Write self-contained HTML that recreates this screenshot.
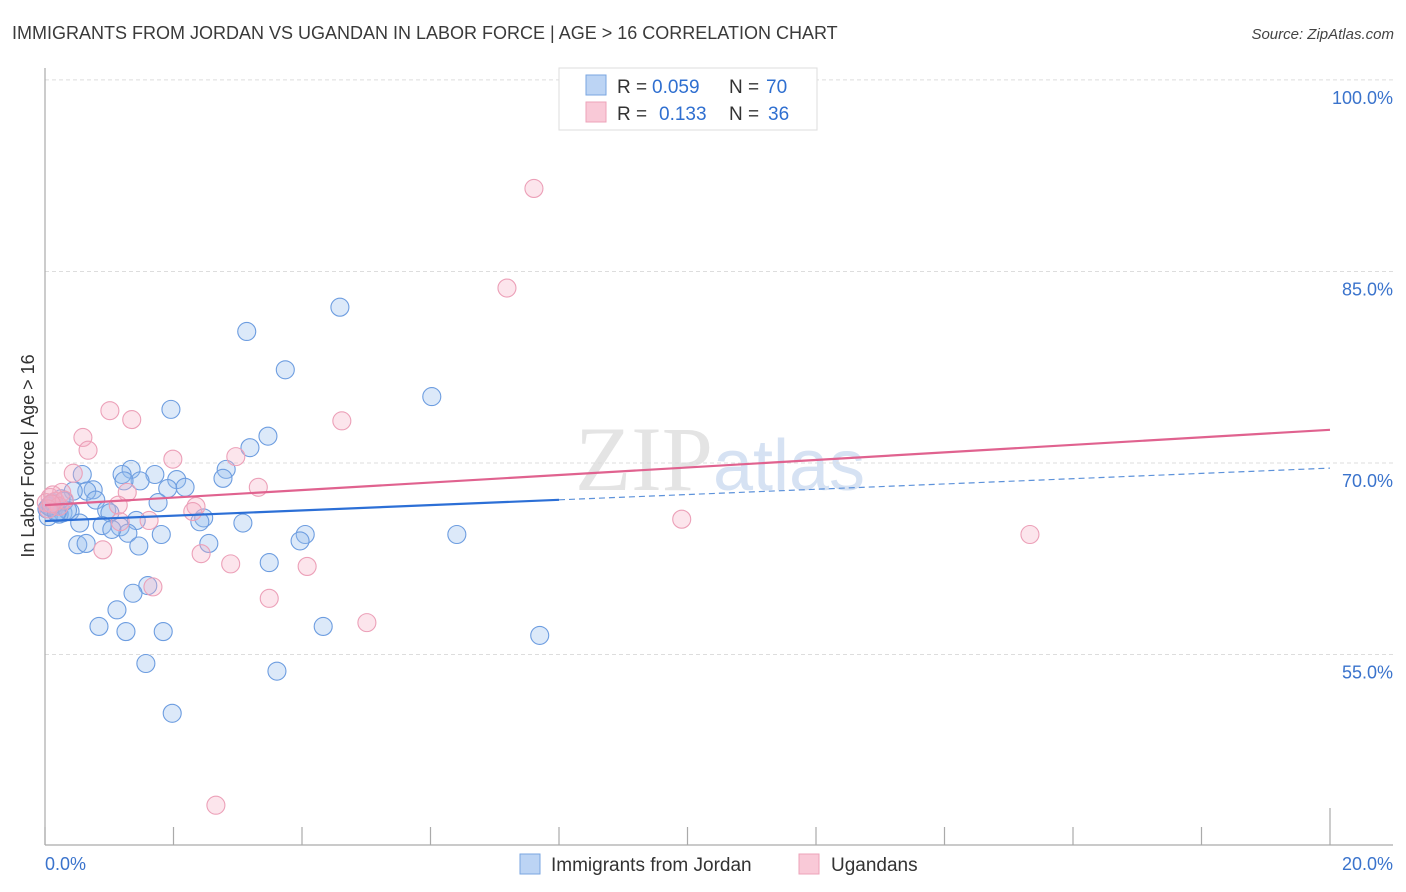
<!DOCTYPE html>
<html><head><meta charset="utf-8"><style>
body{margin:0;background:#fff;font-family:"Liberation Sans",sans-serif}
</style></head><body>
<svg id="chart" width="1406" height="892" viewBox="0 0 1406 892" xmlns="http://www.w3.org/2000/svg" style="display:block">
<text x="12" y="39" font-size="18" fill="#3a3a3a">IMMIGRANTS FROM JORDAN VS UGANDAN IN LABOR FORCE | AGE &gt; 16 CORRELATION CHART</text>
<text x="1394" y="39" font-size="15" font-style="italic" fill="#444" text-anchor="end">Source: ZipAtlas.com</text>
<text x="720" y="490" font-size="92" fill="#e4e4e4" text-anchor="middle" font-family="Liberation Serif, serif">ZIP<tspan fill="#d6e2f3" font-family="Liberation Sans, sans-serif" font-size="72">atlas</tspan></text>
<g id="grid"></g>
<line x1="45" y1="68" x2="45" y2="845" stroke="#aaa" stroke-width="1.2"/>
<line x1="45" y1="845" x2="1393" y2="845" stroke="#aaa" stroke-width="1.2"/>
<g id="xticks"></g>
<text transform="translate(34,456) rotate(-90)" font-size="18" fill="#333" text-anchor="middle">In Labor Force | Age &gt; 16</text>
<text x="45" y="870" font-size="18" fill="#3a73cc">0.0%</text>
<text x="1393" y="870" font-size="18" fill="#3a73cc" text-anchor="end">20.0%</text>
<g id="points"></g>
<g id="trends"></g>
<g>
<rect x="559" y="68" width="258" height="62" fill="#fff" stroke="#ddd"/>
<rect x="586" y="75" width="20" height="20" fill="#bcd4f4" stroke="#7aa6e0"/>
<rect x="586" y="102" width="20" height="20" fill="#f9c9d7" stroke="#eda3ba"/>
<text x="617" y="93" font-size="19" fill="#333">R =</text>
<text x="652" y="93" font-size="19" fill="#2f6fd0">0.059</text>
<text x="729" y="93" font-size="19" fill="#333">N =</text>
<text x="766" y="93" font-size="19" fill="#2f6fd0">70</text>
<text x="617" y="120" font-size="19" fill="#333">R =</text>
<text x="659" y="120" font-size="19" fill="#2f6fd0">0.133</text>
<text x="729" y="120" font-size="19" fill="#333">N =</text>
<text x="768" y="120" font-size="19" fill="#2f6fd0">36</text>
</g>
<g>
<rect x="520" y="854" width="20" height="20" fill="#bcd4f4" stroke="#7aa6e0"/>
<text x="551" y="871" font-size="19" fill="#333">Immigrants from Jordan</text>
<rect x="799" y="854" width="20" height="20" fill="#f9c9d7" stroke="#eda3ba"/>
<text x="831" y="871" font-size="19" fill="#333">Ugandans</text>
</g>
</svg>
<script>
const yTicks=[55,70,85,100];
const yTickLabels=["55.0%","70.0%","85.0%","100.0%"];
const xTicks=[0,2,4,6,8,10,12,14,16,18,20];
const jordanX=[4.59,3.14,3.74,6.02,1.96,3.47,3.19,2.82,2.77,1.71,1.34,1.20,0.58,1.48,1.23,2.05,2.18,1.91,0.75,0.65,0.44,0.79,1.76,0.96,1.01,0.28,0.16,0.08,0.39,1.42,0.54,2.47,2.41,3.08,0.89,1.17,1.29,1.04,1.81,4.05,6.41,0.51,0.64,1.46,2.55,3.97,3.49,1.60,1.37,1.12,0.84,1.26,1.84,4.33,7.70,1.57,3.61,1.98,0.03,0.12,0.20,0.05,0.10,0.30,0.22,0.15,0.35,0.06,0.25,0.18];
const jordanY=[82.2,80.3,77.3,75.2,74.2,72.1,71.2,69.5,68.8,69.1,69.5,69.1,69.1,68.6,68.6,68.7,68.1,68.0,67.9,67.8,67.8,67.1,66.9,66.3,66.1,66.1,66.6,66.7,66.2,65.5,65.3,65.7,65.4,65.3,65.1,65.0,64.5,64.8,64.4,64.4,64.4,63.6,63.7,63.5,63.7,63.9,62.2,60.4,59.8,58.5,57.2,56.8,56.8,57.2,56.5,54.3,53.7,50.4,66.4,66.9,66.2,65.8,66.5,67.0,66.0,66.8,66.3,66.6,67.2,66.1];
const ugandaX=[7.61,7.19,1.01,1.35,4.62,0.59,0.67,1.99,2.97,0.44,3.32,1.28,0.26,1.14,2.35,2.30,1.62,1.17,9.91,15.33,0.90,2.43,2.89,4.08,1.68,3.49,5.01,2.66,0.08,0.16,0.02,0.12,0.22,0.05,0.30,0.10];
const ugandaY=[91.5,83.7,74.1,73.4,73.3,72.0,71.0,70.3,70.5,69.2,68.1,67.7,67.7,66.7,66.6,66.2,65.5,65.4,65.6,64.4,63.2,62.9,62.1,61.9,60.3,59.4,57.5,43.2,67.3,67.0,66.9,67.5,66.6,66.4,67.1,66.8];
const jordanTrend=[65.46,69.6];
const ugandaTrend=[66.7,72.6];
const NS="http://www.w3.org/2000/svg";
function X(v){return 45+v*64.25;}
function Y(v){return 463-(v-70)*12.77;}
function mk(t,a,p){const e=document.createElementNS(NS,t);for(const k in a)e.setAttribute(k,a[k]);p.appendChild(e);return e;}
const grid=document.getElementById('grid');
yTicks.forEach((t,i)=>{
 const l=mk('line',{x1:45,x2:1393,y1:Y(t),y2:Y(t),stroke:'#ddd','stroke-dasharray':'4,3'},grid);
 
 
 const tx=mk('text',{x:1393,y:Y(t)+24,'font-size':18,fill:'#3a73cc','text-anchor':'end'},grid);
 tx.textContent=yTickLabels[i];
 
 
});
const xt=document.getElementById('xticks');
xTicks.forEach(t=>{
 const l=mk('line',{x1:X(t),x2:X(t),y1:t===20?808:827,y2:845,stroke:'#aaa','stroke-width':1.2},xt);
 
 
});
const pts=document.getElementById('points');
jordanX.forEach((x,i)=>{
 const c=mk('circle',{cx:X(x),cy:Y(jordanY[i]),r:9,fill:'rgba(150,188,238,0.33)',stroke:'#6d9de0','stroke-width':1.1},pts);
 
 
});
ugandaX.forEach((x,i)=>{
 const c=mk('circle',{cx:X(x),cy:Y(ugandaY[i]),r:9,fill:'rgba(245,175,198,0.33)',stroke:'#eca0b8','stroke-width':1.1},pts);
 
 
});
const tr=document.getElementById('trends');
function ty(a,x){return a[0]+(a[1]-a[0])*x/20;}
const b1=mk('line',{x1:X(0),y1:Y(ty(jordanTrend,0)),x2:X(8),y2:Y(ty(jordanTrend,8)),stroke:'#2c6fd6','stroke-width':2.2},tr);


const b2=mk('line',{x1:X(8),y1:Y(ty(jordanTrend,8)),x2:X(20),y2:Y(ty(jordanTrend,20)),stroke:'#5d92da','stroke-width':1.2,'stroke-dasharray':'6,4'},tr);


const p1=mk('line',{x1:X(0),y1:Y(ty(ugandaTrend,0)),x2:X(20),y2:Y(ty(ugandaTrend,20)),stroke:'#e0628f','stroke-width':2.2},tr);


</script>
</body></html>
